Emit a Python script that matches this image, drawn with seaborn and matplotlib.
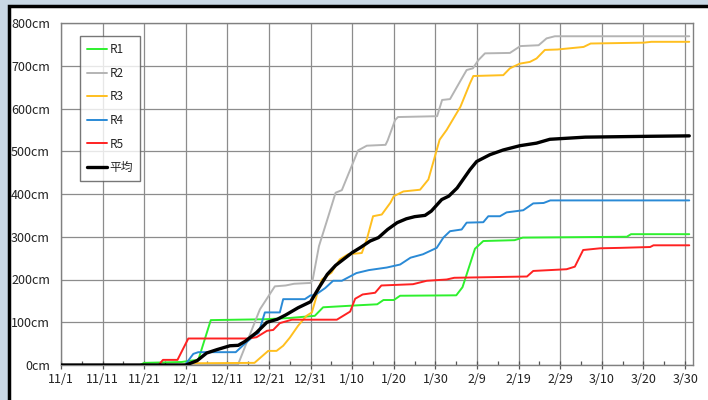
import matplotlib
matplotlib.use("Agg")
import matplotlib.pyplot as plt
from matplotlib.patches import Rectangle
from matplotlib.ticker import MultipleLocator
import pandas as pd
import seaborn as sns

# days counted from 11/1, cumulative snowfall in cm (breakpoints)
R1_DAY = [0, 19, 20, 29, 31, 33, 36, 49, 55, 61, 63, 72, 76, 77.5, 80, 81.5, 95, 96.5,
          99.5, 101.5, 109, 111, 136, 137, 151]
R1_CM = [0, 0, 5, 7, 10, 12, 105, 107, 110, 115, 135, 140, 142, 152, 152, 162, 163, 182,
         272, 290, 292, 298, 300, 306, 306]

R2_DAY = [0, 42.5, 47.8, 51.4, 54, 56, 60, 60.5, 62, 64, 66, 67.5, 71.4, 73.5, 78, 78.5,
          80.3, 81, 90.4, 91.6, 93.5, 95.9, 97.5, 99, 100.3, 101.9, 107.9, 110.4, 114.8,
          116.7, 118.7, 151]
R2_CM = [0, 0, 130, 184, 186, 190, 192, 200, 278, 340, 403, 409, 502, 513, 515, 525,
         573, 580, 582, 620, 622, 663, 690, 694, 713, 729, 730, 746, 748, 764, 769, 769]

R3_DAY = [0, 29, 31, 46.5, 49.8, 51.8, 53.4, 55, 57, 59, 60.3, 61.9, 62.7, 65, 67, 69,
          72.3, 73.5, 75, 77.1, 79.2, 80, 82.3, 86.3, 88.3, 91, 92.7, 96, 98.3, 99.1,
          106.3, 107.9, 110.3, 112.7, 114.3, 116.3, 119.3, 125.6, 127.3, 140, 141.9, 151]
R3_CM = [0, 0, 4, 5, 33, 33, 45, 64, 92, 115, 123, 177, 200, 216, 247, 259,
         262, 294, 348, 352, 380, 395, 406, 410, 434, 527, 550, 604, 659, 676,
         678, 694, 705, 709, 717, 737, 738, 744, 752, 754, 756, 756]

R4_DAY = [0, 29.8, 31.8, 33, 42, 44.2, 46.6, 47.5, 49, 52.6, 53.4, 58.6, 60, 61, 63.5,
          65.4, 67.5, 71, 74, 78.3, 81.5, 84, 87, 90.3, 91.9, 93.5, 96.3, 97.5, 101.5,
          102.7, 105.5, 107.1, 111.1, 113.5, 116, 117.6, 151]
R4_CM = [0, 0, 26, 30, 30, 50, 70, 75, 123, 123, 154, 154, 163, 163, 180,
         197, 197, 215, 222, 228, 235, 251, 259, 274, 298, 313, 317, 333, 334,
         348, 348, 357, 362, 378, 379, 385, 385]

R5_DAY = [0, 23.5, 24.5, 28, 30.6, 45, 47, 49.5, 51, 52.6, 55.5, 66.3, 69.5, 70.7, 72.5,
          75.5, 77, 84.6, 87.9, 92.7, 94.5, 112, 113.5, 121.5, 123.5, 125.5, 129.6,
          134.4, 141.6, 142.4, 151]
R5_CM = [0, 0, 12, 12, 62, 62, 65, 80, 82, 98, 106, 106, 125, 155, 165,
         169, 186, 189, 197, 200, 204, 207, 220, 224, 230, 269, 273,
         274, 276, 280, 280]

AVG_DAY = [0, 30, 32.7, 35, 37.5, 40.6, 42.6, 44.2, 47, 49.5, 52, 54, 57, 60, 62, 64, 66,
           70, 72, 74.3, 76.3, 78.5, 80.8, 83, 85, 87.5, 89, 91.5, 93.2, 95.2, 98.3,
           99.9, 103.1, 106.3, 110.3, 114.3, 117.5, 126, 141.6, 151]
AVG_CM = [0, 0, 10, 28, 36, 45, 46, 55, 76, 100, 107, 117, 134, 148, 181, 212, 233,
          263, 275, 290, 298, 317, 333, 342, 347, 350, 360, 387, 395, 414, 457,
          476, 492, 503, 513, 519, 528, 533, 535, 536]

TICK_DAYS = [0, 10, 20, 30, 40, 50, 60, 70, 80, 90, 100, 110, 120, 130, 140, 150]
TICK_LABELS = ["11/1", "11/11", "11/21", "12/1", "12/11", "12/21", "12/31", "1/10",
               "1/20", "1/30", "2/9", "2/19", "2/29", "3/10", "3/20", "3/30"]
Y_TICKS = [0, 100, 200, 300, 400, 500, 600, 700, 800]

SERIES = [
    ("R1", R1_DAY, R1_CM, "#2ef02e", 1.4),
    ("R2", R2_DAY, R2_CM, "#b4b4b4", 1.4),
    ("R3", R3_DAY, R3_CM, "#ffbf1f", 1.4),
    ("R4", R4_DAY, R4_CM, "#2a8ad6", 1.4),
    ("R5", R5_DAY, R5_CM, "#ff2222", 1.4),
    ("平均", AVG_DAY, AVG_CM, "#000000", 2.4),
]

sns.set_theme(style="white")
plt.rcParams["font.family"] = ["Noto Sans CJK JP", "DejaVu Sans"]

fig = plt.figure(figsize=(7.08, 4.0), dpi=100)
fig.patch.set_facecolor("#c9d8e5")
# white panel with black frame, running off the right/bottom edge
panel = Rectangle((9 / 708, -0.1), 1.2, 1.1 - 6 / 400,
                  transform=fig.transFigure, facecolor="white",
                  edgecolor="black", linewidth=2.5, zorder=-10)
fig.add_artist(panel)

ax = fig.add_axes([61 / 708, 35 / 400, 632 / 708, 342 / 400])
ax.set_zorder(1)
ax.set_facecolor("white")

for name, days, cm, color, lw in SERIES:
    df = pd.DataFrame({"day": days, "cm": cm})
    sns.lineplot(data=df, x="day", y="cm", ax=ax, color=color, linewidth=lw,
                 label=name, estimator=None, sort=False, zorder=3 if name == "平均" else 2)

ax.set_xlim(0, 151.9)
ax.set_ylim(0, 800)
ax.set_xticks(TICK_DAYS)
ax.set_xticklabels(TICK_LABELS)
ax.xaxis.set_minor_locator(MultipleLocator(5))
ax.set_yticks(Y_TICKS)
ax.set_yticklabels([f"{v}cm" for v in Y_TICKS])
ax.set_xlabel("")
ax.set_ylabel("")

ax.grid(True, which="major", color="#8c8c8c", linewidth=0.9)
ax.tick_params(axis="x", which="major", direction="inout", length=6, width=0.9,
               colors="#555555", labelcolor="#222222", labelsize=9, pad=3, bottom=True)
ax.tick_params(axis="x", which="minor", direction="in", length=3, width=0.9,
               colors="#555555", bottom=True)
ax.tick_params(axis="y", length=0, labelsize=9, labelcolor="#222222", pad=8)
for s in ax.spines.values():
    s.set_color("#808080")
    s.set_linewidth(1.0)

leg = ax.legend(loc="upper left", bbox_to_anchor=(0.030, 0.962), frameon=True,
                fancybox=False, edgecolor="#555555", fontsize=8.5,
                handlelength=1.7, handletextpad=0.2, labelspacing=0.9,
                borderpad=0.6, borderaxespad=0)
leg.get_frame().set_linewidth(1.0)
leg.get_frame().set_facecolor("white")

fig.savefig("out.png", dpi=100, facecolor=fig.get_facecolor())
